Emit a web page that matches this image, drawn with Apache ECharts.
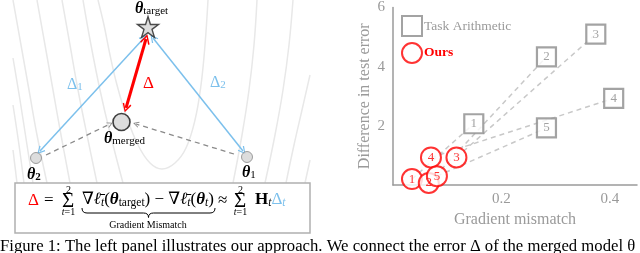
<!DOCTYPE html>
<html><head><meta charset="utf-8">
<script src="https://cdn.jsdelivr.net/npm/echarts@6/dist/echarts.min.js"></script>
<style>html,body{margin:0;padding:0;background:#fff}#c{width:640px;height:253px}</style>
</head><body><div id="c"></div>
<script>
// ---------- Right panel data ----------
const pointLabels = ['1', '2', '3', '4', '5'];
const taskArithmeticX = [0.149, 0.283, 0.374, 0.407, 0.283];
const taskArithmeticY = [2.07, 4.33, 5.10, 2.93, 1.93];
const oursX = [0.035, 0.066, 0.117, 0.070, 0.081];
const oursY = [0.20, 0.07, 0.93, 0.93, 0.30];
const xTickValues = [0.2, 0.4];
const yTickValues = [2, 4, 6];

// ---------- Left diagram data (diagram units) ----------
const nodeNames = ['target', 'merged', 'theta2', 'theta1'];
const nodeX = [148, 121.5, 36, 247];
const nodeY = [27, 122, 158, 157];
const blueArrowA = [[40, 151], [144, 38]];
const blueArrowB = [[153, 38], [243, 151]];
const redArrow = [[146, 39], [126, 108]];
const grayArrowA = [[46, 155], [110, 124]];
const grayArrowB = [[234, 154], [136, 124]];
const contourInner = [[98,0],[104,25],[110,55],[117,85],[126,115],[138,145],[150,163],[162,169],[175,163],[186,148],[195,120],[201,85],[205,45],[208,0]];
const contourL2 = [[83,0],[91,45],[100,90],[110,133],[123,183]];
const contourL3 = [[62,0],[70,45],[78,90],[87,135],[97,183]];
const contourL4 = [[37,0],[45,45],[53,90],[61,135],[70,183]];
const contourL5 = [[13,0],[21,45],[29,90],[37,135],[47,183]];
const contourL6 = [[13,58],[20,100],[27,145],[33,183]];
const contourL7 = [[13,105],[19,145],[24,183]];
const contourL8 = [[13,150],[17,183]];
const contourR2 = [[257,0],[254,45],[249,90],[242,135],[233,183]];
const contourR3 = [[293,0],[289,45],[283,90],[275,135],[265,183]];
const contourR4 = [[310,75],[302,110],[294,145],[286,183]];
const contourR5 = [[310,160],[305,183]];
const contours = [contourInner, contourL2, contourL3, contourL4, contourL5, contourL6, contourL7, contourL8, contourR2, contourR3, contourR4, contourR5];

const SERIF = '"Liberation Serif", "DejaVu Serif", serif';
const GRAY = '#9a9a9a';
const BLUE = '#7cc0ec';
const RED = '#ff0000';
const starPath = 'path://M50,2 L61,36 L97,36 L68,57 L79,92 L50,71 L21,92 L32,57 L3,36 L39,36 Z';
const chevron = 'path://M5,0 L10,9 L8.6,9.8 L5,2.8 L1.4,9.8 L0,9 Z';

const nodeStyles = [
  {symbol: starPath, symbolSize: 21, itemStyle: {color: '#d4d4d4', borderColor: '#222', borderWidth: 1.4}},
  {symbol: 'circle', symbolSize: 17, itemStyle: {color: '#d4d4d4', borderColor: '#111', borderWidth: 1.6}},
  {symbol: 'circle', symbolSize: 11, itemStyle: {color: '#d4d4d4', borderColor: '#888', borderWidth: 1}},
  {symbol: 'circle', symbolSize: 11, itemStyle: {color: '#d4d4d4', borderColor: '#888', borderWidth: 1}}
];

function tok(size, lh, extra) {
  return Object.assign({fontSize: size, fontFamily: SERIF, lineHeight: lh, verticalAlign: 'bottom'}, extra || {});
}
const rich = {
  m: tok(16, 16), mi: tok(16, 16, {fontStyle: 'italic'}),
  th: tok(16, 16, {fontStyle: 'italic', fontWeight: 'bold'}),
  sub: tok(11, 7), subi: tok(11, 7, {fontStyle: 'italic'}), subb: tok(11, 7, {fontWeight: 'bold'}),
  bd: tok(16, 16, {fill: BLUE}), bsub: tok(11, 7, {fill: BLUE}),
  rd: tok(17, 16, {fill: RED}),
  fm: tok(17, 17), fmi: tok(17, 17, {fontStyle: 'italic'}),
  fth: tok(17, 17, {fontStyle: 'italic', fontWeight: 'bold'}),
  fhb: tok(17, 17, {fontWeight: 'bold'}), fbd: tok(17, 17, {fill: BLUE}),
  fsub: tok(11.5, 7), fsubi: tok(11.5, 7, {fontStyle: 'italic'}), fbsubi: tok(11.5, 7, {fontStyle: 'italic', fill: BLUE})
};
function T(x, y, text, extra) {
  return Object.assign({type: 'text', x: x, y: y, z: 100,
    style: Object.assign({text: text, rich: rich, fill: '#000', font: '16px ' + SERIF, align: 'left', verticalAlign: 'middle'}, extra || {})});
}
function brace(x1, x2, yTop, yMid, yTip) {
  const xm = (x1 + x2) / 2, s = {fill: 'none', stroke: '#000', lineWidth: 1};
  return [
    {type: 'bezierCurve', z: 100, shape: {x1: x1, y1: yTop, x2: x1 + 5, y2: yMid, cpx1: x1, cpy1: yMid}, style: s},
    {type: 'line', z: 100, shape: {x1: x1 + 5, y1: yMid, x2: xm - 5, y2: yMid}, style: s},
    {type: 'bezierCurve', z: 100, shape: {x1: xm - 5, y1: yMid, x2: xm, y2: yTip, cpx1: xm, cpy1: yMid}, style: s},
    {type: 'bezierCurve', z: 100, shape: {x1: xm, y1: yTip, x2: xm + 5, y2: yMid, cpx1: xm, cpy1: yMid}, style: s},
    {type: 'line', z: 100, shape: {x1: xm + 5, y1: yMid, x2: x2 - 5, y2: yMid}, style: s},
    {type: 'bezierCurve', z: 100, shape: {x1: x2 - 5, y1: yMid, x2: x2, y2: yTop, cpx1: x2, cpy1: yMid}, style: s}
  ];
}
const limRich = {ti: {fontStyle: 'italic', fontSize: 10, fontFamily: SERIF}};

const graphics = [
  {type: 'rect', z: 90, shape: {x: 15, y: 183, width: 295, height: 50}, style: {fill: '#fff', stroke: '#b0b0b0', lineWidth: 1.5}},
  T(28, 201, '{rd|Δ}'),
  T(44, 201, '{fm|=}'),
  T(62, 201, 'Σ', {font: '21px ' + SERIF}),
  T(68.5, 190, '2', {font: '10px ' + SERIF, align: 'center'}),
  T(68.5, 212.5, '{ti|t}=1', {font: '10px ' + SERIF, align: 'center', rich: limRich}),
  T(82, 200, '{fm|∇}{fmi|ℓ̄}{fsubi|t}{fm|(}{fth|θ}{fsub|target}{fm|) − ∇}{fmi|ℓ̄}{fsubi|t}{fm|(}{fth|θ}{fsubi|t}{fm|)}'),
  T(148, 225, 'Gradient Mismatch', {font: '10px ' + SERIF, align: 'center'}),
  T(218, 201, '{fm|≈}'),
  T(234, 201, 'Σ', {font: '21px ' + SERIF}),
  T(240.5, 190, '2', {font: '10px ' + SERIF, align: 'center'}),
  T(240.5, 212.5, '{ti|t}=1', {font: '10px ' + SERIF, align: 'center', rich: limRich}),
  T(255, 200, '{fhb|H}{fsubi|t}{fbd|Δ}{fbsubi|t}'),
  T(135, 9, '{th|θ}{sub|target}'),
  T(104, 139, '{th|θ}{sub|merged}'),
  T(27, 175, '{th|θ}{subb|2}'),
  T(242, 173, '{th|θ}{sub|1}'),
  T(67, 85, '{bd|Δ}{bsub|1}'),
  T(210, 83, '{bd|Δ}{bsub|2}'),
  T(143, 84, '{rd|Δ}'),
  T(0, 247, 'Figure 1: The left panel illustrates our approach. We connect the error Δ of the merged model θ', {font: '16.7px ' + SERIF})
].concat(brace(82, 215, 208, 213, 217.5));

const series = [];
contours.forEach(function (c) {
  series.push({type: 'line', xAxisIndex: 0, yAxisIndex: 0, data: c, smooth: 0.4, showSymbol: false, silent: true, z: 1,
    lineStyle: {color: '#e8e8e8', width: 1.5}});
});
function arrow(coords, color, width, syms, size, dashed) {
  return {type: 'lines', coordinateSystem: 'cartesian2d', xAxisIndex: 0, yAxisIndex: 0, z: 3, silent: true,
    symbol: syms, symbolSize: size,
    lineStyle: {color: color, width: width, type: dashed ? [5, 4] : 'solid', opacity: 1},
    data: [{coords: coords}]};
}
series.push(arrow(blueArrowA, BLUE, 1.5, [chevron, chevron], [8, 8]));
series.push(arrow(blueArrowB, BLUE, 1.5, [chevron, chevron], [8, 8]));
series.push(arrow(redArrow, RED, 3, [chevron, chevron], [10, 9]));
series.push(arrow(grayArrowA, '#8a8a8a', 1.3, ['none', chevron], [6, 6], true));
series.push(arrow(grayArrowB, '#8a8a8a', 1.3, ['none', chevron], [6, 6], true));
series.push({type: 'scatter', xAxisIndex: 0, yAxisIndex: 0, z: 5, silent: true,
  data: nodeNames.map(function (n, i) { return Object.assign({name: n, value: [nodeX[i], nodeY[i]]}, nodeStyles[i]); })});

series.push({type: 'lines', coordinateSystem: 'cartesian2d', xAxisIndex: 1, yAxisIndex: 1, z: 2, silent: true,
  lineStyle: {color: '#c8c8c8', width: 1.5, type: [5, 4], opacity: 1},
  data: pointLabels.map(function (l, i) { return {coords: [[oursX[i], oursY[i]], [taskArithmeticX[i], taskArithmeticY[i]]]}; })});
series.push({name: 'Task Arithmetic', type: 'scatter', xAxisIndex: 1, yAxisIndex: 1, z: 4, symbol: 'rect', symbolSize: 19,
  itemStyle: {color: '#fff', borderColor: '#8c8c8c', borderWidth: 2.2},
  label: {show: true, position: 'inside', formatter: function (p) { return pointLabels[p.dataIndex]; }, color: '#8c8c8c', fontSize: 13, fontFamily: SERIF},
  data: taskArithmeticX.map(function (x, i) { return [x, taskArithmeticY[i]]; })});
series.push({name: 'Ours', type: 'scatter', xAxisIndex: 1, yAxisIndex: 1, z: 5, symbol: 'circle', symbolSize: 20,
  itemStyle: {color: '#fff', borderColor: RED, borderWidth: 2},
  label: {show: true, position: 'inside', formatter: function (p) { return pointLabels[p.dataIndex]; }, color: RED, fontSize: 13, fontFamily: SERIF},
  data: oursX.map(function (x, i) { return [x, oursY[i]]; })});

function fmt(list, digits) {
  return function (v) {
    for (var k = 0; k < list.length; k++) if (Math.abs(list[k] - v) < 1e-9) return digits ? v.toFixed(digits) : String(v);
    return '';
  };
}

const option = {
  animation: false,
  backgroundColor: '#fff',
  textStyle: {fontFamily: SERIF},
  legend: {
    orient: 'vertical', left: 401, top: 15, itemWidth: 20, itemHeight: 20, itemGap: 5, padding: 0,
    textStyle: {fontFamily: SERIF, fontSize: 13.5, color: GRAY, padding: [0, 0, 0, -3]},
    data: [{name: 'Task Arithmetic', textStyle: {color: GRAY}}, {name: 'Ours', textStyle: {color: RED, fontWeight: 'bold'}}]
  },
  grid: [
    {left: 0, top: 0, width: 330, height: 183},
    {left: 393, top: 5, width: 245, height: 180}
  ],
  xAxis: [
    {gridIndex: 0, type: 'value', min: 0, max: 330, show: false},
    {gridIndex: 1, type: 'value', min: 0, max: 0.45, interval: 0.2,
      axisLine: {lineStyle: {color: GRAY, width: 1.5}}, axisTick: {show: false}, splitLine: {show: false},
      axisLabel: {color: GRAY, fontSize: 15, fontFamily: SERIF, margin: 7, formatter: fmt(xTickValues, 1)},
      name: 'Gradient mismatch', nameLocation: 'middle', nameGap: 26,
      nameTextStyle: {color: GRAY, fontSize: 16, fontFamily: SERIF}}
  ],
  yAxis: [
    {gridIndex: 0, type: 'value', min: 0, max: 183, inverse: true, show: false},
    {gridIndex: 1, type: 'value', min: 0, max: 6, interval: 2,
      axisLine: {show: true, lineStyle: {color: GRAY, width: 1.5}}, axisTick: {show: false}, splitLine: {show: false},
      axisLabel: {color: GRAY, fontSize: 15, fontFamily: SERIF, margin: 8, formatter: fmt(yTickValues, 0)},
      name: 'Difference in test error', nameLocation: 'middle', nameGap: 20,
      nameTextStyle: {color: GRAY, fontSize: 16, fontFamily: SERIF}}
  ],
  graphic: {elements: graphics},
  series: series
};
const chart = echarts.init(document.getElementById('c'), null, {renderer: 'canvas'});
chart.setOption(option);
</script></body></html>
